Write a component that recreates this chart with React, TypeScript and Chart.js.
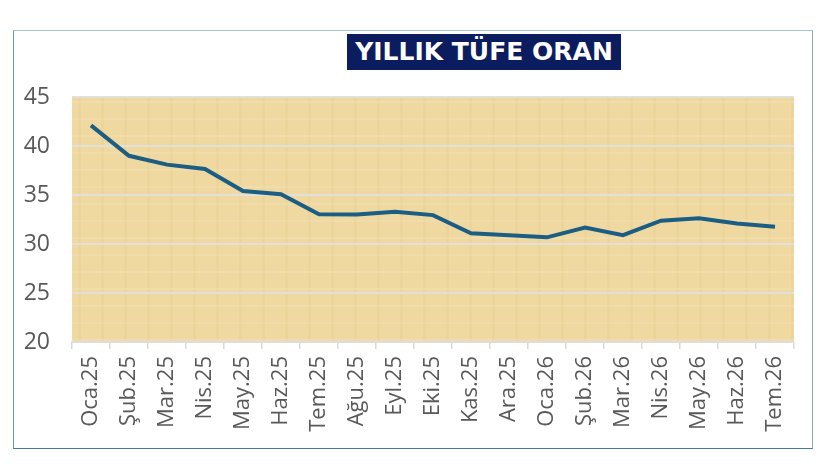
import { useEffect, useRef } from "react";
import { Chart, registerables } from "chart.js";

Chart.register(...registerables);

const months = [
  "Oca.25", "Şub.25", "Mar.25", "Nis.25", "May.25", "Haz.25", "Tem.25",
  "Ağu.25", "Eyl.25", "Eki.25", "Kas.25", "Ara.25", "Oca.26", "Şub.26",
  "Mar.26", "Nis.26", "May.26", "Haz.26", "Tem.26",
];
const tufe = [
  42.1, 39.0, 38.1, 37.65, 35.4, 35.07, 33.03, 33.0, 33.3, 32.95,
  31.1, 30.9, 30.68, 31.67, 30.9, 32.38, 32.62, 32.1, 31.77,
];
const yMin = 20;
const yMax = 45;
const yStep = 5;

const paperBg = {
  id: "paperBg",
  beforeDraw(chart: Chart) {
    const { ctx, chartArea } = chart;
    if (!chartArea) return;
    const { left, top, width, height } = chartArea;
    ctx.save();
    ctx.fillStyle = "#efd9a1";
    ctx.fillRect(left, top, width, height);
    // faint fibre bands
    ctx.fillStyle = "rgba(200,165,90,0.07)";
    for (let x = left + 6; x < left + width; x += 23) {
      ctx.fillRect(x, top, 3, height);
    }
    ctx.fillStyle = "rgba(255,248,225,0.15)";
    for (let y = top + 4; y < top + height; y += 17) {
      ctx.fillRect(left, y, width, 2);
    }
    ctx.restore();
  },
};

export default function App() {
  const canvasRef = useRef<HTMLCanvasElement>(null);
  const chartRef = useRef<Chart | null>(null);

  useEffect(() => {
    if (!canvasRef.current) return;
    chartRef.current?.destroy();

    chartRef.current = new Chart(canvasRef.current, {
      type: "line",
      data: {
        labels: months,
        datasets: [
          {
            label: "Yıllık TÜFE",
            data: tufe,
            borderColor: "#1c5d83",
            backgroundColor: "#1c5d83",
            borderWidth: 4,
            pointRadius: 0,
            tension: 0,
          },
        ],
      },
      options: {
        animation: false,
        responsive: false,
        maintainAspectRatio: false,
        layout: { padding: { top: 67, right: 19, bottom: 0, left: 0 } },
        plugins: {
          legend: { display: false },
          tooltip: { enabled: false },
        },
        scales: {
          x: {
            offset: true,
            grid: {
              offset: true,
              drawOnChartArea: false,
              color: "#d9d9d9",
              lineWidth: 1.5,
              tickLength: 7,
            },
            border: { color: "#dcdcdc", width: 1.5 },
            ticks: {
              minRotation: 90,
              maxRotation: 90,
              autoSkip: false,
              padding: 7,
              color: "#595959",
              font: { family: "Open Sans", size: 22 },
            },
            afterFit: (s: any) => { s.height = 107; },
          },
          y: {
            min: yMin,
            max: yMax,
            grid: { color: "#e2e0da", lineWidth: 2, drawTicks: false },
            border: { display: false },
            ticks: {
              stepSize: yStep,
              padding: 22,
              color: "#595959",
              font: { family: "Open Sans", size: 23 },
            },
            afterFit: (s: any) => { s.width = 59; },
          },
        },
      },
      plugins: [paperBg],
    });

    return () => { chartRef.current?.destroy(); };
  }, []);

  return (
    <div style={{ position: "absolute", left: 0, top: 0, width: 820, height: 470, background: "#fff" }}>
      <div
        style={{
          position: "absolute",
          left: 13,
          top: 30,
          width: 798,
          height: 417,
          borderStyle: "solid",
          borderWidth: 1.5,
          borderColor: "#a9c4d4 #86aac2 #3f7ba1 #6e9aba",
        }}
      />
      <canvas
        ref={canvasRef}
        width={800}
        height={419}
        style={{ position: "absolute", left: 13, top: 30, width: 800, height: 419 }}
      />
      <div
        style={{
          position: "absolute",
          left: 347,
          top: 34,
          width: 274,
          height: 36,
          background: "#0b1d5e",
          color: "#fff",
          fontFamily: "DejaVu Sans",
          fontWeight: "bold",
          fontSize: 25,
          lineHeight: "36px",
          textAlign: "center",
          whiteSpace: "nowrap",
        }}
      >
        YILLIK TÜFE ORAN
      </div>
    </div>
  );
}
